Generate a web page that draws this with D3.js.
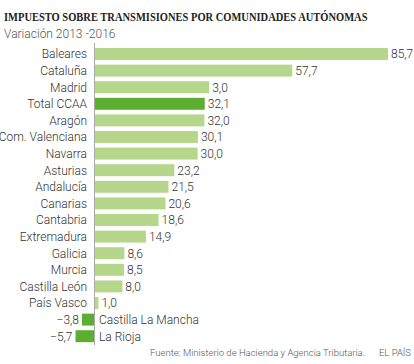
<!DOCTYPE html>
<html><head><meta charset="utf-8">
<script src="https://cdn.jsdelivr.net/npm/d3@7"></script>
<style>body{margin:0;background:#fff}svg{display:block}</style>
</head><body>
<svg id="c" width="414" height="364"></svg>
<script>
const categories = ["Baleares","Cataluña","Madrid","Total CCAA","Aragón","Com. Valenciana","Navarra","Asturias","Andalucía","Canarias","Cantabria","Extremadura","Galicia","Murcia","Castilla León","País Vasco","Castilla La Mancha","La Rioja"];
const values = [85.7,57.7,33.4,32.1,32.0,30.1,30.0,23.2,21.5,20.6,18.6,14.9,8.6,8.5,8.0,1.0,-3.8,-5.7];
const valueLabels = ["85,7","57,7","3,0","32,1","32,0","30,1","30,0","23,2","21,5","20,6","18,6","14,9","8,6","8,5","8,0","1,0","−3,8","−5,7"];
const highlighted = ["Total CCAA","Castilla La Mancha","La Rioja"];

const svg = d3.select("#c");
const x = d3.scaleLinear().domain([0, 85.7]).range([95, 388]);
const y = d3.scaleBand().domain(categories).range([45.7, 344.5]).paddingInner(0.28).paddingOuter(0.14);

const title = svg.append("text").attr("x",0).attr("y",0).attr("font-family","Liberation Serif").attr("font-weight","bold")
  .attr("font-size",13.5).attr("fill","#222")
  .text("IMPUESTO SOBRE TRANSMISIONES POR COMUNIDADES AUTÓNOMAS");
const tw = title.node().getComputedTextLength();
title.attr("transform", `translate(4,21) scale(${364/tw},1)`);

svg.append("text").attr("x",4).attr("y",38).attr("font-family","Roboto").attr("font-weight",300).attr("font-size",12).attr("fill","#555")
  .text("Variación 2013 -2016");

const data = categories.map((c,i)=>({c, v:values[i], l:valueLabels[i]}));
const g = svg.append("g");
g.selectAll("rect").data(data).join("rect")
  .attr("x", d=>x(Math.min(0,d.v))).attr("width", d=>Math.abs(x(d.v)-x(0)))
  .attr("y", d=>y(d.c)).attr("height", y.bandwidth())
  .attr("fill", d=>highlighted.includes(d.c) ? "#5cae31" : "#b6d68c");

svg.append("line").attr("x1",x(0)-0.5).attr("x2",x(0)-0.5).attr("y1",43).attr("y2",345)
  .attr("stroke","#aaa").attr("stroke-width",1);

const font = "Roboto";
g.selectAll("text.cat").data(data).join("text").attr("class","cat")
  .attr("x", d=> d.v<0 ? x(0)+4 : x(0)-8)
  .attr("y", d=>y(d.c)+y.bandwidth()/2).attr("dy","0.36em")
  .attr("text-anchor", d=> d.v<0 ? "start" : "end")
  .attr("font-family",font).attr("font-weight",300).attr("font-size",12).attr("fill","#333").text(d=>d.c);
g.selectAll("text.val").data(data).join("text").attr("class","val")
  .attr("x", d=> d.v<0 ? x(d.v)-3 : x(d.v)+3)
  .attr("y", d=>y(d.c)+y.bandwidth()/2).attr("dy","0.36em")
  .attr("text-anchor", d=> d.v<0 ? "end" : "start")
  .attr("font-family",font).attr("font-weight",300).attr("font-size",12).attr("fill","#333").text(d=>d.l);

svg.append("text").attr("x",365).attr("y",356).attr("text-anchor","end").attr("font-family",font).attr("font-weight",300)
  .attr("font-size",9.5).attr("fill","#555").text("Fuente: Ministerio de Hacienda y Agencia Tributaria.");
svg.append("text").attr("x",411).attr("y",356).attr("text-anchor","end").attr("font-family",font).attr("font-weight",300)
  .attr("font-size",9.5).attr("fill","#555").text("EL PAÍS");
</script>
</body></html>
